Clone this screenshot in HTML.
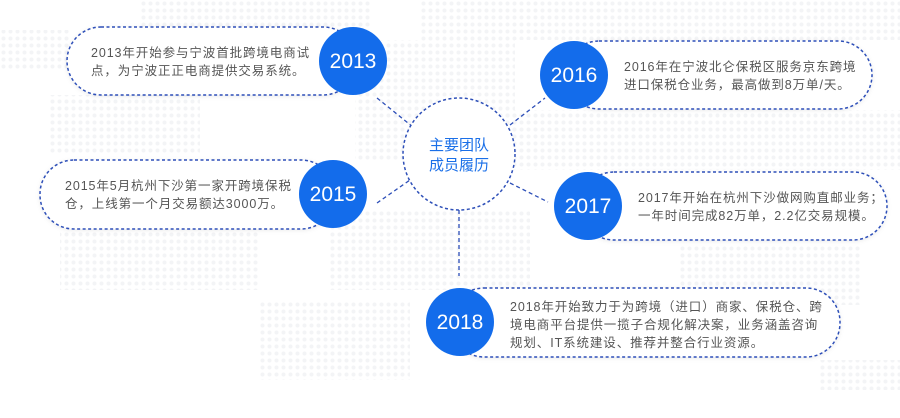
<!DOCTYPE html>
<html><head><meta charset="utf-8"><style>
html,body{margin:0;padding:0;background:#fff;}
svg{display:block;}
text{font-family:"Liberation Sans","Noto Sans CJK SC",sans-serif;}
.t{font-size:12.5px;fill:#555;letter-spacing:0.9px;}
.y{font-size:21px;fill:#fff;font-family:"Liberation Sans",sans-serif;}
.b{fill:#fff;stroke:#2d4fb8;stroke-width:1.5;stroke-dasharray:3 2.5;}
.l{stroke:#2d4fb8;stroke-width:1.3;stroke-dasharray:4 3;fill:none;}
</style></head><body>
<svg width="900" height="418" viewBox="0 0 900 418" xmlns="http://www.w3.org/2000/svg">
<defs>
<pattern id="d" width="7" height="7" patternUnits="userSpaceOnUse"><circle cx="3.5" cy="3.5" r="2" fill="#f3f4f6"/></pattern>
<filter id="s" x="-10%" y="-20%" width="120%" height="140%"><feDropShadow dx="0" dy="1" stdDeviation="2" flood-color="#000" flood-opacity="0.08"/></filter>
</defs>
<g fill="url(#d)">
<rect x="140" y="0" width="230" height="30"/><rect x="0" y="30" width="70" height="40"/>
<rect x="50" y="95" width="150" height="60"/><rect x="355" y="40" width="160" height="120"/>
<rect x="420" y="0" width="480" height="40"/><rect x="500" y="110" width="200" height="60"/>
<rect x="700" y="110" width="200" height="60"/><rect x="60" y="230" width="200" height="60"/>
<rect x="330" y="210" width="200" height="80"/><rect x="680" y="245" width="180" height="60"/>
<rect x="260" y="300" width="150" height="80"/><rect x="820" y="360" width="80" height="30"/>
</g>
<!-- connectors -->
<line class="l" x1="377" y1="98" x2="413" y2="127"/>
<line class="l" x1="377" y1="203" x2="410" y2="180"/>
<line class="l" x1="510" y1="125" x2="545" y2="98"/>
<line class="l" x1="510" y1="183" x2="548" y2="202"/>
<line class="l" x1="459" y1="210" x2="459" y2="276"/>
<!-- center -->
<circle cx="459" cy="154" r="56" class="b"/>
<text x="459" y="150" text-anchor="middle" style="font-size:15px;fill:#1a6fe8;">主要团队</text>
<text x="459" y="170" text-anchor="middle" style="font-size:15px;fill:#1a6fe8;">成员履历</text>
<!-- boxes -->
<rect x="67" y="27" width="290" height="68" rx="34" class="b" filter="url(#s)"/>
<rect x="40" y="160" width="295" height="69" rx="34" class="b" filter="url(#s)"/>
<rect x="565" y="41" width="307" height="68" rx="34" class="b" filter="url(#s)"/>
<rect x="580" y="172" width="307" height="68" rx="34" class="b" filter="url(#s)"/>
<rect x="450" y="288" width="390" height="69" rx="34" class="b" filter="url(#s)"/>
<!-- circles -->
<circle cx="353" cy="61" r="34" fill="#136ceb"/>
<circle cx="333" cy="194" r="34" fill="#136ceb"/>
<circle cx="574" cy="75" r="34" fill="#136ceb"/>
<circle cx="588" cy="206" r="34" fill="#136ceb"/>
<circle cx="460" cy="322" r="34" fill="#136ceb"/>
<text class="y" x="353" y="68" text-anchor="middle">2013</text>
<text class="y" x="333" y="201" text-anchor="middle">2015</text>
<text class="y" x="574" y="82" text-anchor="middle">2016</text>
<text class="y" x="588" y="213" text-anchor="middle">2017</text>
<text class="y" x="460" y="329" text-anchor="middle">2018</text>
<!-- texts -->
<text class="t" x="91" y="57">2013年开始参与宁波首批跨境电商试</text>
<text class="t" x="91" y="75">点，为宁波正正电商提供交易系统。</text>
<text class="t" x="65" y="190">2015年5月杭州下沙第一家开跨境保税</text>
<text class="t" x="65" y="208">仓，上线第一个月交易额达3000万。</text>
<text class="t" x="624" y="71">2016年在宁波北仑保税区服务京东跨境</text>
<text class="t" x="624" y="89">进口保税仓业务，最高做到8万单/天。</text>
<text class="t" x="638" y="202">2017年开始在杭州下沙做网购直邮业务；</text>
<text class="t" x="638" y="220">一年时间完成82万单，2.2亿交易规模。</text>
<text class="t" x="510" y="311">2018年开始致力于为跨境（进口）商家、保税仓、跨</text>
<text class="t" x="510" y="329">境电商平台提供一揽子合规化解决案，业务涵盖咨询</text>
<text class="t" x="510" y="347">规划、IT系统建设、推荐并整合行业资源。</text>
</svg>
</body></html>
